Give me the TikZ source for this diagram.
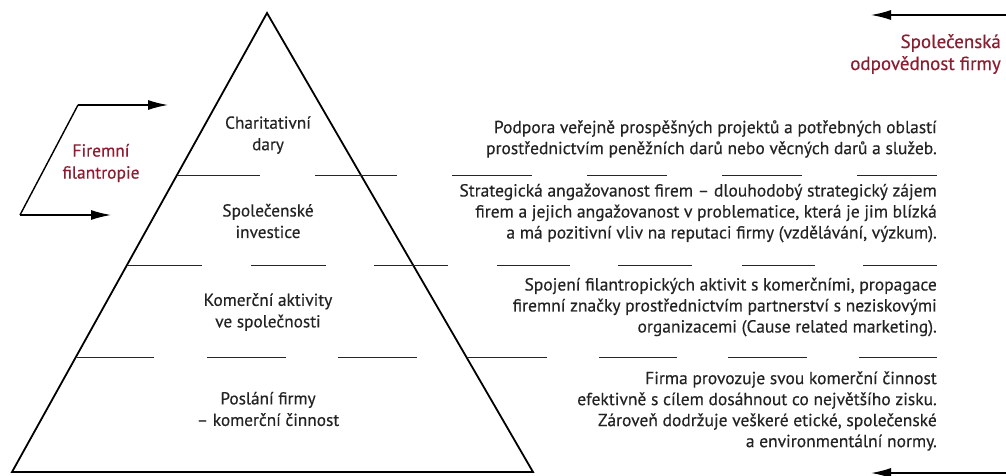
\documentclass[tikz,border=0pt]{standalone}
\usepackage{fontspec}
\setmainfont[FakeBold=0.35]{PT Sans}
\usetikzlibrary{arrows.meta}
\definecolor{cred}{RGB}{140,28,48}
\definecolor{ctext}{RGB}{35,35,35}
\tikzset{
  pyr/.style={draw=black,line width=1.8pt,line join=miter},
  sep/.style={draw=black!85,line width=0.9pt},
  arr/.style={draw=black,line width=1.4pt,-{Latex[length=20pt,width=10pt]}},
  lvl/.style={align=center,text=ctext,font=\fontsize{17.3}{21.5}\selectfont,inner sep=0pt},
  desc/.style={align=right,text=ctext,font=\fontsize{17.5}{21}\selectfont,inner sep=0pt,anchor=east},
  redt/.style={align=center,text=cred,font=\fontsize{17.5}{22}\selectfont,inner sep=0pt},
}
\begin{document}
\begin{tikzpicture}[x=1pt,y=-1pt]
\useasboundingbox (0,0) rectangle (1006,475);
% pyramid
\coordinate (apex) at (267,13);
\coordinate (bl) at (12,472);
\coordinate (br) at (533,472);
\draw[pyr] (bl) -- (apex) -- (br) -- cycle;
% separator segments
\foreach \a/\b in {178/260,315/397,452/532,587/667,722/802,857/937}
  {\draw[sep] (\a,175) -- (\b,175);}
\foreach \a/\b in {128/202,251/326,374/448,497/570,618/692,742/815,863/937}
  {\draw[sep] (\a,265) -- (\b,265);}
\foreach \a/\b in {77/154,207/286,338/417,467/547,599/677,728/807,859/937}
  {\draw[sep] (\a,357) -- (\b,357);}
% level labels
\node[lvl] (l1) at (268,135) {Charitativní\\dary};
\node[lvl] (l2) at (268,221) {Společenské\\investice};
\node[lvl] (l3) at (268,312) {Komerční aktivity\\ve společnosti};
\node[lvl] (l4) at (268,409) {Poslání firmy\\– komerční činnost};
% descriptions
\node[desc] (d1) at (937,139) {Podpora veřejně prospěšných projektů a potřebných oblastí\\prostřednictvím peněžních darů nebo věcných darů a služeb.};
\node[desc] (d2) at (937,213) {Strategická angažovanost firem – dlouhodobý strategický zájem\\firem a jejich angažovanost v problematice, která je jim blízká\\a má pozitivní vliv na reputaci firmy (vzdělávání, výzkum).};
\node[desc] (d3) at (937,307) {Spojení filantropických aktivit s komerčními, propagace\\firemní značky prostřednictvím partnerství s neziskovými\\organizacemi (Cause related marketing).};
\node[desc] (d4) at (937,411) {Firma provozuje svou komerční činnost\\efektivně s cílem dosáhnout co největšího zisku.\\Zároveň dodržuje veškeré etické, společenské\\a environmentální normy.};
% firemni filantropie bracket
\node[redt] (ff) at (101,163) {Firemní\\filantropie};
\coordinate (f1) at (78,105);
\coordinate (f1e) at (168,105);
\coordinate (f2) at (20,215);
\coordinate (f2e) at (111,215);
\draw[arr] (f2) -- (f2e);
\draw[arr] (f1) -- (f1e);
\draw[draw=black,line width=1.4pt] (f1) -- (f2);
% CSR label and arrows
\node[redt,align=right,anchor=east,font=\fontsize{19}{22}\selectfont] (csr) at (1001,54) {Společenská\\odpovědnost firmy};
\coordinate (t1) at (1006,15);
\coordinate (t1e) at (871,15);
\draw[arr] (t1) -- (t1e);
\coordinate (b1) at (1006,473);
\coordinate (b1e) at (871,473);
\draw[arr] (b1) -- (b1e);
\end{tikzpicture}
\end{document}
